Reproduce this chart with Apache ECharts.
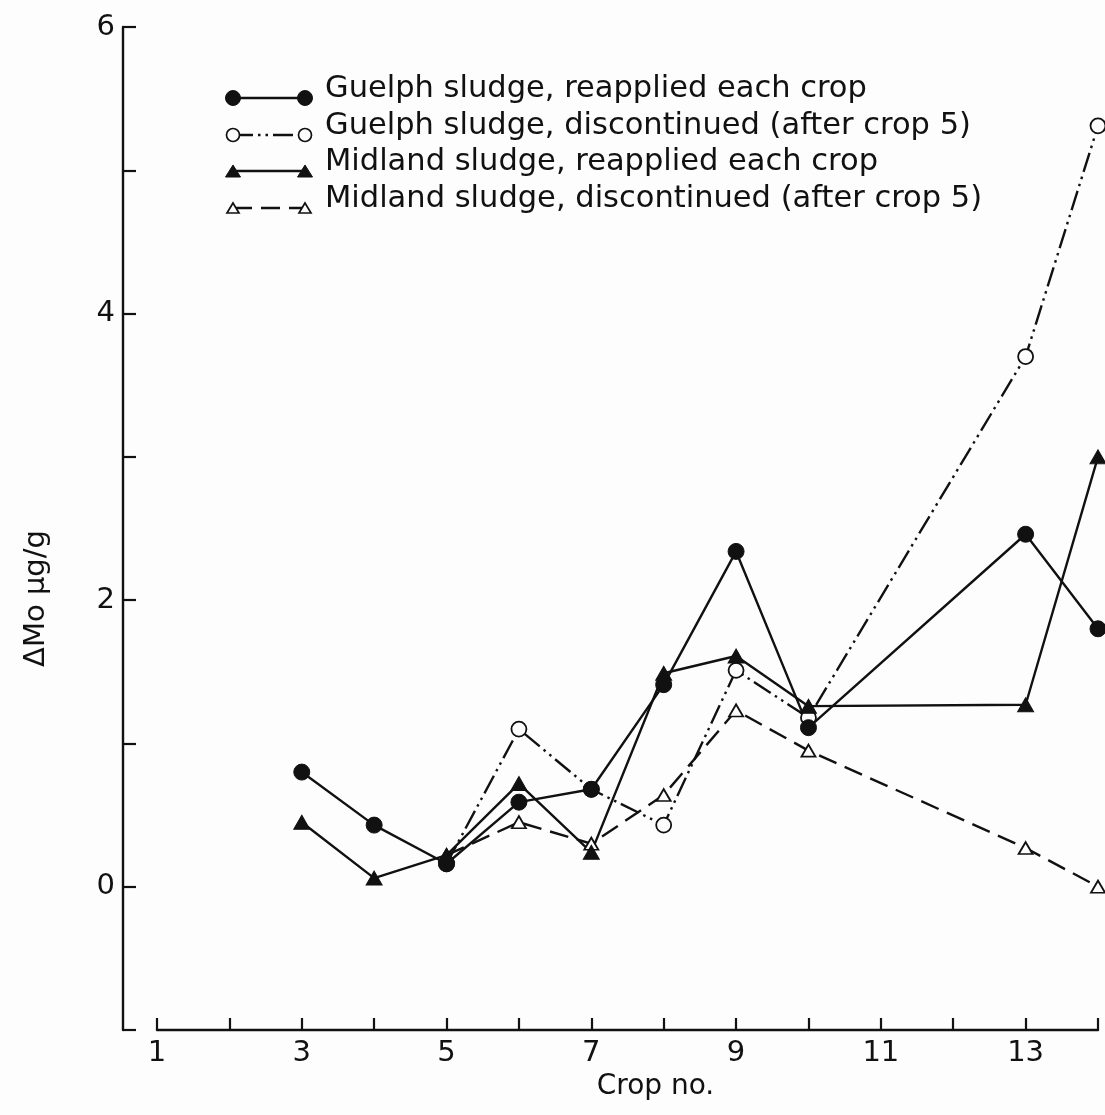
<!DOCTYPE html>
<html>
<head>
<meta charset="utf-8">
<title>Mo uptake by crop</title>
<script src="https://cdn.jsdelivr.net/npm/echarts@6/dist/echarts.min.js"></script>
<style>
  html, body { margin: 0; padding: 0; background: #fdfdfd; }
  #chart { width: 1105px; height: 1115px; }
</style>
</head>
<body>
<div id="chart"></div>
<script>
// Crop numbers for each treatment
const cropsReapplied = [3, 4, 5, 6, 7, 8, 9, 10, 13, 14];
const cropsDiscontinued = [5, 6, 7, 8, 9, 10, 13, 14];

// Increase in Mo concentration (µg/g) per crop
const guelphReapplied     = [0.80, 0.43, 0.16, 0.59, 0.68, 1.41, 2.34, 1.11, 2.46, 1.80];
const guelphDiscontinued  = [0.16, 1.10, 0.68, 0.43, 1.51, 1.18, 3.70, 5.31];
const midlandReapplied    = [0.45, 0.06, 0.22, 0.72, 0.24, 1.49, 1.61, 1.26, 1.27, 3.00];
const midlandDiscontinued = [0.22, 0.45, 0.30, 0.64, 1.23, 0.95, 0.27, 0.00];

// Axis tick labels
const xTickLabels = [1, 3, 5, 7, 9, 11, 13];
const yTickLabels = [0, 2, 4, 6];

const seriesNames = [
  'Guelph sludge, reapplied each crop',
  'Guelph sludge, discontinued (after crop 5)',
  'Midland sludge, reapplied each crop',
  'Midland sludge, discontinued (after crop 5)'
];

const INK = '#111';
const PAPER = '#fdfdfd';
const FONT = '"DejaVu Sans", "Liberation Sans", sans-serif';
const LINE_W = 2.4;
const DASH_DOT_DOT = [20, 5, 2.5, 5, 2.5, 5];
const DASHED = [19, 9];

function pairs(xs, ys) { return xs.map((x, i) => [x, ys[i]]); }

// Hand-built key: a short line with a marker at each end, then the label
const keyRows = [
  { y: 98,  marker: 'circle',   filled: true,  dash: null },
  { y: 135, marker: 'circle',   filled: false, dash: DASH_DOT_DOT },
  { y: 171, marker: 'triangle', filled: true,  dash: null },
  { y: 208, marker: 'triangle', filled: false, dash: DASHED }
];
const keyLeft = 233, keyRight = 305, keyText = 325;

function keyMarker(kind, filled, cx, cy) {
  const style = filled
    ? { fill: INK, stroke: INK, lineWidth: 1 }
    : { fill: PAPER, stroke: INK, lineWidth: 1.7 };
  if (kind === 'circle') {
    return { type: 'circle', shape: { cx, cy, r: filled ? 7.5 : 6.5 }, style, z: 10 };
  }
  const w = filled ? 7.5 : 6, h = filled ? 12 : 10;
  return {
    type: 'polygon',
    shape: { points: [[cx, cy - h / 2], [cx + w, cy + h / 2], [cx - w, cy + h / 2]] },
    style, z: 10
  };
}

const keyGraphics = [];
keyRows.forEach((row, i) => {
  keyGraphics.push({
    type: 'line',
    shape: { x1: keyLeft, y1: row.y, x2: keyRight, y2: row.y },
    style: { stroke: INK, lineWidth: LINE_W, lineDash: row.dash || null },
    z: 9
  });
  keyGraphics.push(keyMarker(row.marker, row.filled, keyLeft, row.y));
  keyGraphics.push(keyMarker(row.marker, row.filled, keyRight, row.y));
  keyGraphics.push({
    type: 'text',
    style: {
      text: seriesNames[i], x: keyText, y: row.y - 9,
      fill: INK, fontSize: 30.5, fontFamily: FONT, verticalAlign: 'middle'
    },
    z: 10
  });
});

const openStyle = { color: PAPER, borderColor: INK, borderWidth: 1.8 };
const filledStyle = { color: INK, borderColor: INK, borderWidth: 1 };

const chart = echarts.init(document.getElementById('chart'), null, { renderer: 'canvas' });
chart.setOption({
  backgroundColor: PAPER,
  animation: false,
  textStyle: { fontFamily: FONT, color: INK },
  grid: { left: 157, right: 7, top: 27, bottom: 85, containLabel: false },
  xAxis: {
    type: 'value', min: 1, max: 14, interval: 1,
    name: 'Crop no.', nameLocation: 'middle', nameGap: 42,
    nameTextStyle: { fontSize: 28, color: INK, fontFamily: FONT, padding: [0, 0, 0, 56] },
    axisLine: { onZero: false, lineStyle: { color: INK, width: 2.4 } },
    axisTick: { inside: true, length: 12, lineStyle: { color: INK, width: 2.2 } },
    axisLabel: {
      margin: 9, fontSize: 29, color: INK, fontFamily: FONT,
      formatter: v => (xTickLabels.includes(v) ? String(v) : '')
    },
    splitLine: { show: false }
  },
  yAxis: {
    type: 'value', min: -1, max: 6, interval: 1, offset: 34,
    name: 'ΔMo μg/g', nameLocation: 'middle', nameRotate: 90, nameGap: 72,
    nameTextStyle: { fontSize: 29, color: INK, fontFamily: FONT, padding: [0, 140, 0, 0] },
    axisLine: { onZero: false, lineStyle: { color: INK, width: 2.4 } },
    axisTick: { inside: true, length: 13, lineStyle: { color: INK, width: 2.2 } },
    axisLabel: {
      margin: 8, fontSize: 29, color: INK, fontFamily: FONT,
      formatter: v => (yTickLabels.includes(v) ? String(v) : '')
    },
    splitLine: { show: false }
  },
  graphic: keyGraphics,
  series: [
    {
      name: seriesNames[1], type: 'line', data: pairs(cropsDiscontinued, guelphDiscontinued),
      symbol: 'circle', symbolSize: 15, itemStyle: openStyle,
      lineStyle: { color: INK, width: LINE_W, type: DASH_DOT_DOT }
    },
    {
      name: seriesNames[3], type: 'line', data: pairs(cropsDiscontinued, midlandDiscontinued),
      symbol: 'triangle', symbolSize: [14, 12], itemStyle: openStyle,
      lineStyle: { color: INK, width: LINE_W, type: DASHED }
    },
    {
      name: seriesNames[2], type: 'line', data: pairs(cropsReapplied, midlandReapplied),
      symbol: 'triangle', symbolSize: [16, 14], itemStyle: filledStyle,
      lineStyle: { color: INK, width: LINE_W }
    },
    {
      name: seriesNames[0], type: 'line', data: pairs(cropsReapplied, guelphReapplied),
      symbol: 'circle', symbolSize: 16, itemStyle: filledStyle,
      lineStyle: { color: INK, width: LINE_W }
    }
  ]
});
</script>
</body>
</html>
